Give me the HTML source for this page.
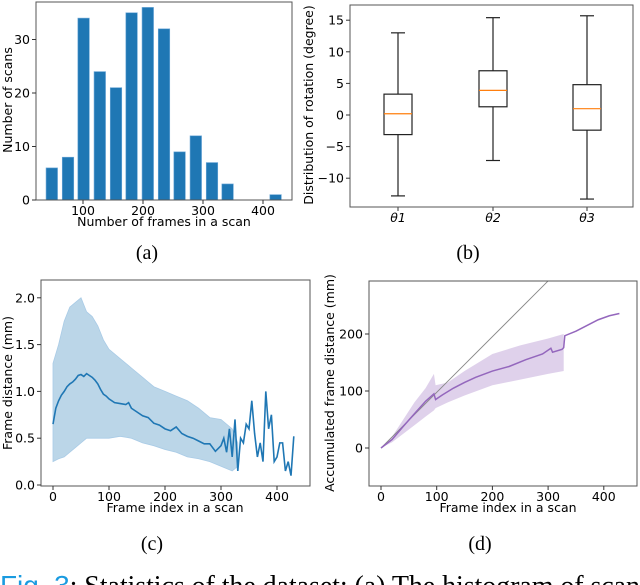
<!DOCTYPE html>
<html><head><meta charset="utf-8"><style>
body{margin:0;background:#fff;width:640px;height:585px;overflow:hidden}
svg{display:block}
text{font-family:"DejaVu Sans","Liberation Sans",sans-serif;fill:#000}
.cap{font-family:"Liberation Serif",serif;font-size:20px}
</style></head><body>
<svg id="fig" width="640" height="585" viewBox="0 0 640 585" xmlns="http://www.w3.org/2000/svg"></svg>
<script>
// (a) histogram
const histCenters=[48,75,101,128,155,181,208,235,261,288,315,341,368,395,421];
const histCounts=[6,8,34,24,21,35,36,32,9,12,7,3,0,0,1];
const histYTicks=[0,10,20,30];
const histXTicks=[100,200,300,400];
// (b) boxplot
const boxLabels=["θ1","θ2","θ3"];
const boxWhiskLo=[-12.8,-7.2,-13.3];
const boxQ1=[-3.1,1.3,-2.4];
const boxMed=[0.2,3.9,1.0];
const boxQ3=[3.3,7.0,4.8];
const boxWhiskHi=[13.0,15.4,15.7];
const boxYTicks=[-10,-5,0,5,10,15];
// (c) frame distance
const cX=[0,5,10,15,20,25,30,35,40,45,50,55,60,65,70,75,80,85,90,95,100,110,120,130,135,140,150,160,170,180,190,200,210,220,230,240,250,260,270,280,290,300,305,310,315,320,325,330,335,340,345,350,355,360,365,370,375,380,385,390,395,400,405,410,415,420,425,430];
const cMean=[0.65,0.82,0.9,0.96,1.0,1.05,1.08,1.1,1.13,1.17,1.18,1.16,1.19,1.17,1.15,1.12,1.08,1.02,0.97,0.95,0.92,0.88,0.87,0.86,0.88,0.82,0.78,0.74,0.72,0.66,0.64,0.6,0.58,0.62,0.55,0.52,0.5,0.47,0.44,0.44,0.36,0.42,0.5,0.35,0.6,0.3,0.7,0.15,0.5,0.45,0.65,0.6,0.9,0.55,0.3,0.45,0.25,1.0,0.6,0.75,0.25,0.3,0.45,0.45,0.15,0.25,0.1,0.52];
const cBandX=[0,10,20,30,40,50,60,70,80,90,100,120,140,160,180,200,220,240,260,280,300,320,330];
const cUpper=[1.3,1.5,1.75,1.9,1.95,2.0,1.85,1.8,1.7,1.55,1.45,1.35,1.25,1.15,1.05,1.0,0.95,0.9,0.82,0.72,0.7,0.6,0.45];
const cLower=[0.25,0.28,0.3,0.35,0.4,0.45,0.5,0.5,0.5,0.5,0.5,0.52,0.5,0.45,0.42,0.38,0.35,0.3,0.28,0.25,0.2,0.15,0.2];
const cYTicks=[0,0.5,1.0,1.5,2.0];
const cXTicks=[0,100,200,300,400];
// (d) accumulated distance
const dX=[0,20,40,60,80,95,98,110,130,150,170,200,230,260,290,305,308,325,328,330,350,370,390,410,428];
const dMean=[0,15,38,60,82,95,85,93,105,115,124,135,143,155,165,175,168,173,176,197,205,215,225,232,236];
const dBandX=[0,20,40,60,80,95,98,120,150,200,250,300,328];
const dUpper=[0,20,50,80,105,130,110,115,135,165,180,192,200];
const dLower=[0,10,25,40,55,66,70,80,92,110,120,130,135];
const dRefX=[0,300];
const dRefY=[0,293];
const dYTicks=[0,100,200];
const dXTicks=[0,100,200,300,400];

const svg=document.getElementById('fig');
const NS='http://www.w3.org/2000/svg';
function mk(tag,attrs,parent){const e=document.createElementNS(NS,tag);for(const k in attrs)e.setAttribute(k,attrs[k]);(parent||svg).appendChild(e);return e;}
function txt(s,x,y,size,anchor,parent){const t=mk('text',{x:x,y:y,'font-size':size,'text-anchor':anchor||'middle'},parent);t.textContent=s;return t;}
function lin(d0,d1,r0,r1){return v=>r0+(v-d0)/(d1-d0)*(r1-r0);}
function frame(x0,y0,x1,y1,name){const r=mk('rect',{x:x0,y:y0,width:x1-x0,height:y1-y0,fill:'none',stroke:'#555','stroke-width':1});

}
function yTicks(ticks,sy,x0,fmt,name){const g=mk('g',{});


ticks.forEach(v=>{const y=sy(v);mk('line',{x1:x0-4,x2:x0,y1:y,y2:y,stroke:'#333'},g);txt(fmt(v),x0-6,y+4.5,12.5,'end',g);});}
function xTicks(ticks,sx,y0,fmt,name){const g=mk('g',{});


ticks.forEach(v=>{const x=sx(v);mk('line',{x1:x,x2:x,y1:y0,y2:y0+4,stroke:'#333'},g);txt(fmt(v),x,y0+15,12.5,'middle',g);});}
function label(s,x,y,rot,name,size){const t=txt(s,x,y,size||12.5,'middle');if(rot)t.setAttribute('transform','rotate(-90 '+x+' '+y+')');

}

// ---- (a)
{const sx=lin(0,100,23,83),sy=lin(0,10,200,146.5);
const g=mk('g',{});


histCenters.forEach((c,i)=>{if(histCounts[i]<=0)return;const w=11.5;const b=mk('rect',{x:sx(c)-w/2,y:sy(histCounts[i]),width:w,height:sy(0)-sy(histCounts[i]),fill:'#1f77b4',stroke:'#6fa8d8','stroke-width':0.6},g);

});
mk('line',{x1:sx(350),x2:sx(400),y1:200,y2:200,stroke:'#999','stroke-width':0.8});
frame(36,2,292,200,'plot-a-frame');
yTicks(histYTicks,sy,36,v=>v,'y-ticks-a');
xTicks(histXTicks,sx,200,v=>v,'x-ticks-a');
label('Number of scans',12,100,true,'y-axis-title-a');
label('Number of frames in a scan',164,226,false,'x-axis-title-a');
const c=txt('(a)',147,259,20,'middle');c.setAttribute('class','cap');

}

// ---- (b)
{const sy=lin(0,5,115,83.4);const centers=[398,493,587];const w=28;
boxLabels.forEach((lab,i)=>{const g=mk('g',{});


const cx=centers[i];
mk('line',{x1:cx,x2:cx,y1:sy(boxWhiskHi[i]),y2:sy(boxQ3[i]),stroke:'#222','stroke-width':1.2},g);
mk('line',{x1:cx,x2:cx,y1:sy(boxQ1[i]),y2:sy(boxWhiskLo[i]),stroke:'#222','stroke-width':1.2},g);
mk('line',{x1:cx-w/4,x2:cx+w/4,y1:sy(boxWhiskHi[i]),y2:sy(boxWhiskHi[i]),stroke:'#222','stroke-width':1.2},g);
mk('line',{x1:cx-w/4,x2:cx+w/4,y1:sy(boxWhiskLo[i]),y2:sy(boxWhiskLo[i]),stroke:'#222','stroke-width':1.2},g);
mk('rect',{x:cx-w/2,y:sy(boxQ3[i]),width:w,height:sy(boxQ1[i])-sy(boxQ3[i]),fill:'none',stroke:'#222','stroke-width':1.2},g);
mk('line',{x1:cx-w/2,x2:cx+w/2,y1:sy(boxMed[i]),y2:sy(boxMed[i]),stroke:'#ff7f0e','stroke-width':1.2},g);
const t=txt(lab,cx,222,12.5,'middle',g);t.setAttribute('font-style','italic');
mk('line',{x1:cx,x2:cx,y1:207,y2:211,stroke:'#333'},g);});
frame(350,5,633,207,'plot-b-frame');
yTicks(boxYTicks,sy,350,v=>v<0?'\u2212'+(-v):v,'y-ticks-b');
label('Distribution of rotation (degree)',313,105,true,'y-axis-title-b');
const c=txt('(b)',468,259,20,'middle');c.setAttribute('class','cap');

}

// ---- (c)
{const sx=lin(0,100,53,109),sy=lin(0,0.5,485,438.2);
let d='M'+cBandX.map((x,i)=>sx(x)+','+sy(cUpper[i])).join('L');
for(let i=cBandX.length-1;i>=0;i--)d+='L'+sx(cBandX[i])+','+sy(cLower[i]);
const band=mk('path',{d:d+'Z',fill:'#1f77b4','fill-opacity':0.3,stroke:'#a9cbe6','stroke-width':0.8});


const ln=mk('polyline',{points:cX.map((x,i)=>sx(x)+','+sy(cMean[i])).join(' '),fill:'none',stroke:'#1f77b4','stroke-width':1.6});


frame(41,280,310,486,'plot-c-frame');
yTicks(cYTicks,sy,41,v=>v.toFixed(1),'y-ticks-c');
xTicks(cXTicks,sx,486,v=>v,'x-ticks-c');
label('Frame distance (mm)',12,383,true,'y-axis-title-c');
label('Frame index in a scan',175,512,false,'x-axis-title-c');
const c=txt('(c)',152,550,20,'middle');c.setAttribute('class','cap');

}

// ---- (d)
{const sx=lin(0,100,381,436.7),sy=lin(0,100,448,391);
let d='M'+dBandX.map((x,i)=>sx(x)+','+sy(dUpper[i])).join('L');
for(let i=dBandX.length-1;i>=0;i--)d+='L'+sx(dBandX[i])+','+sy(dLower[i]);
const band=mk('path',{d:d+'Z',fill:'#9467bd','fill-opacity':0.3,stroke:'none'});


const ref=mk('line',{x1:sx(dRefX[0]),y1:sy(dRefY[0]),x2:sx(dRefX[1]),y2:sy(dRefY[1]),stroke:'#888','stroke-width':0.9});


const ln=mk('polyline',{points:dX.map((x,i)=>sx(x)+','+sy(dMean[i])).join(' '),fill:'none',stroke:'#9467bd','stroke-width':1.5});


frame(369,281,637,486,'plot-d-frame');
yTicks(dYTicks,sy,369,v=>v,'y-ticks-d');
xTicks(dXTicks,sx,486,v=>v,'x-ticks-d');
label('Accumulated frame distance (mm)',334,383,true,'y-axis-title-d');
label('Frame index in a scan',508,512,false,'x-axis-title-d');
const c=txt('(d)',480,550,20,'middle');c.setAttribute('class','cap');

}

// figure caption (cut off)
{const t=mk('text',{x:0,y:595,'font-size':28,textLength:640,lengthAdjust:'spacing'});t.setAttribute('class','cap');
t.setAttribute('style','font-size:28px');


const a=mk('tspan',{fill:'#1a9be0','font-family':'Liberation Sans, sans-serif'},t);a.textContent='Fig. 3';
const b=mk('tspan',{},t);b.textContent=': Statistics of the dataset: (a) The histogram of scan';}
</script>
</body></html>
